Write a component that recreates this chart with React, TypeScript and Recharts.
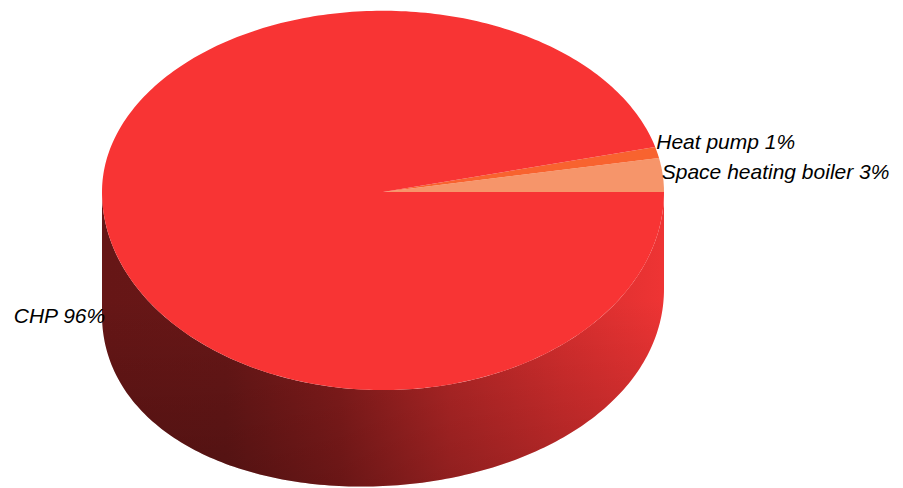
import React from 'react';
import { PieChart, Pie } from 'recharts';

// shares
const categories = ['Space heating boiler', 'Heat pump', 'CHP'];
const shares = [3, 1, 96];
const colors = ['#f6956a', '#f8632f', '#f83434'];

const data = categories.map((name, i) => ({ name, value: shares[i], color: colors[i] }));

const RY_TOP = 0.645; // vertical squash above centre
const RY_BOT = 0.705; // vertical squash below centre (perspective)
const RAD = Math.PI / 180;
const LABEL_GAP = 30;

// wall is a bit taller on the left than on the right (camera perspective)
function depthAt(deg: number) {
  const c = Math.cos(deg * RAD);
  return 96 - 13 * c + 14 * c * c;
}

function rimPoint(cx: number, cy: number, r: number, deg: number, dy = 0) {
  const s = Math.sin(deg * RAD);
  const ry = s > 0 ? r * RY_TOP : r * RY_BOT;
  return [cx + r * Math.cos(deg * RAD), cy - ry * s + dy];
}

function arcPoints(cx: number, cy: number, r: number, a: number, b: number, bottom = false) {
  const pts: number[][] = [];
  const n = Math.max(2, Math.ceil(Math.abs(b - a)));
  for (let i = 0; i <= n; i++) {
    const t = a + ((b - a) * i) / n;
    pts.push(rimPoint(cx, cy, r, t, bottom ? depthAt(t) : 0));
  }
  return pts;
}

const toPath = (pts: number[][]) => pts.map((p, i) => `${i ? 'L' : 'M'}${p[0].toFixed(2)},${p[1].toFixed(2)}`).join(' ');

// side wall, only the front half (180..360) can be seen
function WallShape(props: any) {
  const { cx, cy, outerRadius, startAngle, endAngle } = props;
  const lo = Math.min(startAngle, endAngle);
  const hi = Math.max(startAngle, endAngle);
  const a = Math.max(lo, 180);
  const b = Math.min(hi, 360);
  if (b <= a) return <g />;
  const top = arcPoints(cx, cy, outerRadius, a, b);
  const bottom = arcPoints(cx, cy, outerRadius, b, a, true);
  const d = toPath([...top, ...bottom]) + ' Z';
  return (
    <g>
      <path d={d} fill="url(#wallGrad)" stroke="none" />
      <path d={d} fill="url(#wallShade)" stroke="none" />
    </g>
  );
}

function TopShape(props: any) {
  const { cx, cy, outerRadius, startAngle, endAngle, payload } = props;
  const lo = Math.min(startAngle, endAngle);
  const hi = Math.max(startAngle, endAngle);
  const pts = [[cx, cy], ...arcPoints(cx, cy, outerRadius, lo, hi)];
  return <path d={toPath(pts) + ' Z'} fill={payload?.color ?? props.fill} stroke="none" />;
}

const total = shares.reduce((s, v) => s + v, 0);

// right-hand labels are stacked so they do not collide
function rightLabelY(cx: number, cy: number, r: number, index: number): number {
  let cum = 0;
  for (let i = 0; i < index; i++) cum += shares[i];
  const mid = (360 * (cum + shares[index] / 2)) / total;
  const y = rimPoint(cx, cy, r, mid)[1] - 3;
  if (index === 0) return y;
  const prevCum = cum - shares[index - 1];
  const prevMid = (360 * (prevCum + shares[index - 1] / 2)) / total;
  if (Math.cos(prevMid * RAD) < 0) return y;
  return Math.min(y, rightLabelY(cx, cy, r, index - 1) - LABEL_GAP);
}

function renderLabel(props: any) {
  const { cx, cy, outerRadius, midAngle, name, value, index } = props;
  const [x, y] = rimPoint(cx, cy, outerRadius, midAngle);
  const left = Math.cos(midAngle * RAD) < 0;
  return (
    <text
      x={left ? x + 1 : x - 1}
      y={left ? y + 99 : rightLabelY(cx, cy, outerRadius, index)}
      textAnchor={left ? 'end' : 'start'}
      dominantBaseline="central"
      fontFamily="'Liberation Sans', Arial, sans-serif"
      fontStyle="italic"
      fontSize={21}
      fill="#000"
    >
      {`${name} ${value}%`}
    </text>
  );
}

export default function App() {
  return (
    <div style={{ position: 'absolute', left: 0, top: 0, background: '#fff' }}>
      <PieChart width={903} height={488} margin={{ top: 0, right: 0, bottom: 0, left: 0 }}>
        <defs>
          <linearGradient id="wallGrad" gradientUnits="userSpaceOnUse" x1={103} y1={0} x2={663} y2={0}>
            <stop offset="0%" stopColor="#661616" />
            <stop offset="22%" stopColor="#681717" />
            <stop offset="42%" stopColor="#861c1c" />
            <stop offset="62%" stopColor="#b62727" />
            <stop offset="82%" stopColor="#d62e2e" />
            <stop offset="100%" stopColor="#ee3434" />
          </linearGradient>
          <linearGradient id="wallShade" gradientUnits="userSpaceOnUse" x1={0} y1={300} x2={0} y2={488}>
            <stop offset="0%" stopColor="#000" stopOpacity={0} />
            <stop offset="100%" stopColor="#000" stopOpacity={0.22} />
          </linearGradient>
        </defs>
        <Pie
          data={data}
          dataKey="value"
          nameKey="name"
          cx={383}
          cy={192}
          outerRadius={281}
          startAngle={0}
          endAngle={360}
          stroke="none"
          isAnimationActive={false}
          shape={WallShape}
          label={false}
          labelLine={false}
        />
        <Pie
          data={data}
          dataKey="value"
          nameKey="name"
          cx={383}
          cy={192}
          outerRadius={281}
          startAngle={0}
          endAngle={360}
          stroke="none"
          isAnimationActive={false}
          shape={TopShape}
          label={renderLabel}
          labelLine={false}
        />
      </PieChart>
    </div>
  );
}
